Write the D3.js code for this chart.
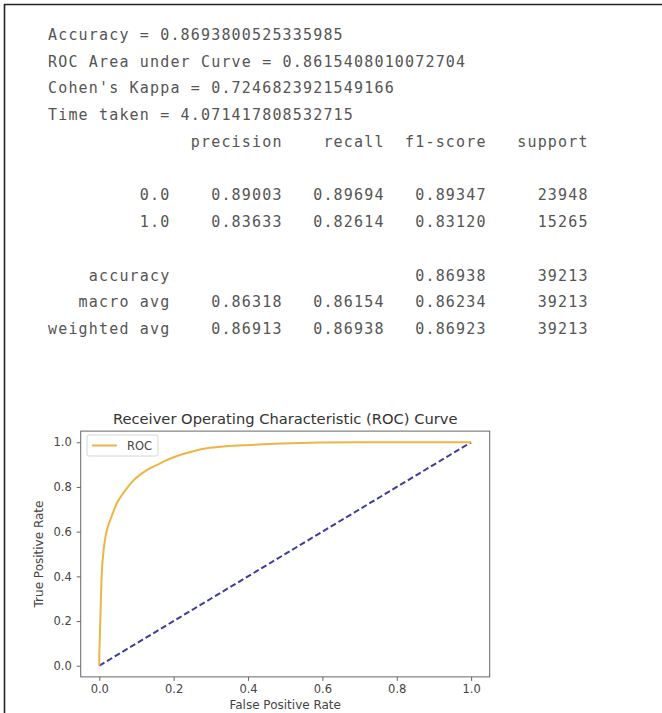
<!DOCTYPE html>
<html>
<head>
<meta charset="utf-8">
<script src="https://cdn.jsdelivr.net/npm/d3@7"></script>
<style>
  body { margin: 0; background: #fff; }
  svg { display: block; }
  .mono { font-family: "DejaVu Sans Mono", "Liberation Mono", monospace; white-space: pre; }
  .sans { font-family: "DejaVu Sans", "Noto Sans", sans-serif; }
</style>
</head>
<body>
<svg id="chart" width="662" height="713"></svg>
<script>
// ---- Evaluation summary ----
const metricNames = ["Accuracy", "ROC Area under Curve", "Cohen's Kappa", "Time taken"];
const metricValues = ["0.8693800525335985", "0.8615408010072704", "0.7246823921549166", "4.071417808532715"];

// ---- Classification report ----
const reportHeaders = ["precision", "recall", "f1-score", "support"];
const classLabels = ["0.0", "1.0"];
const classPrecision = [0.89003, 0.83633];
const classRecall = [0.89694, 0.82614];
const classF1 = [0.89347, 0.83120];
const classSupport = [23948, 15265];
const accuracyF1 = 0.86938;
const accuracySupport = 39213;
const avgLabels = ["macro avg", "weighted avg"];
const avgPrecision = [0.86318, 0.86913];
const avgRecall = [0.86154, 0.86938];
const avgF1 = [0.86234, 0.86923];
const avgSupport = [39213, 39213];

// ---- ROC curve ----
const rocFpr = [0.0, 0.0, 0.001, 0.002, 0.004, 0.0065, 0.010, 0.015, 0.021, 0.029, 0.038, 0.047, 0.060, 0.074, 0.090, 0.109, 0.130, 0.154, 0.185, 0.217, 0.250, 0.289, 0.340, 0.405, 0.470, 0.540, 0.600, 0.700, 0.800, 0.900, 1.0];
const rocTpr = [0.0, 0.05, 0.10, 0.16, 0.28, 0.41, 0.49, 0.56, 0.61, 0.65, 0.69, 0.727, 0.762, 0.794, 0.826, 0.854, 0.878, 0.898, 0.923, 0.943, 0.959, 0.973, 0.982, 0.988, 0.993, 0.997, 0.999, 1.0, 1.0, 1.0, 1.0];
const chanceFpr = [0, 1];
const chanceTpr = [0, 1];
const xTicks = [0.0, 0.2, 0.4, 0.6, 0.8, 1.0];
const yTicks = [0.0, 0.2, 0.4, 0.6, 0.8, 1.0];

const svg = d3.select("#chart");
svg.append("rect").attr("width", 662).attr("height", 713).attr("fill", "#fff");

// Page frame (top and left edges)
svg.append("line").attr("x1", 4).attr("y1", 4.5).attr("x2", 662).attr("y2", 4.5)
  .attr("stroke", "#222").attr("stroke-width", 1.6);
svg.append("line").attr("x1", 4.5).attr("y1", 4).attr("x2", 4.5).attr("y2", 713)
  .attr("stroke", "#222").attr("stroke-width", 1.6);

// ---- Text output, laid out as in a fixed-width console ----
const W = 12;
const f5 = d3.format(".5f");
const lines = [];
metricNames.forEach((n, i) => lines.push(`${n} = ${metricValues[i]}`));
lines.push(" ".repeat(W) + " " + reportHeaders.map(h => " " + h.padStart(9)).join(""));
lines.push("");
classLabels.forEach((c, i) => {
  lines.push(c.padStart(W) + " " +
    [classPrecision[i], classRecall[i], classF1[i]].map(v => " " + f5(v).padStart(9)).join("") +
    " " + String(classSupport[i]).padStart(9));
});
lines.push("");
lines.push("accuracy".padStart(W) + " " + " ".repeat(20) + " " + f5(accuracyF1).padStart(9) + " " + String(accuracySupport).padStart(9));
avgLabels.forEach((c, i) => {
  lines.push(c.padStart(W) + " " +
    [avgPrecision[i], avgRecall[i], avgF1[i]].map(v => " " + f5(v).padStart(9)).join("") +
    " " + String(avgSupport[i]).padStart(9));
});

const lineStep = 26.73;
svg.append("g").selectAll("text").data(lines).join("text")
  .attr("class", "mono")
  .attr("x", 48)
  .attr("y", (d, i) => 40 + i * lineStep)
  .attr("font-size", 15)
  .attr("letter-spacing", 10.2 - 15 * 0.602)
  .attr("fill", "#555")
  .text(d => d);

// ---- ROC chart ----
const x = d3.scaleLinear().domain([-0.05, 1.05]).range([80.7, 489.7]);
const y = d3.scaleLinear().domain([-0.05, 1.05]).range([676.9, 431.1]);
const axisColor = "#666";
const labelColor = "#444";

const g = svg.append("g");

const xAxis = g.append("g").attr("transform", `translate(0,${y.range()[0]})`)
  .call(d3.axisBottom(x).tickValues(xTicks).tickSize(4).tickPadding(4).tickFormat(d3.format(".1f")));
const yAxis = g.append("g").attr("transform", `translate(${x.range()[0]},0)`)
  .call(d3.axisLeft(y).tickValues(yTicks).tickSize(4).tickPadding(5).tickFormat(d3.format(".1f")));
[xAxis, yAxis].forEach(a => {
  a.select(".domain").remove();
  a.selectAll(".tick line").attr("stroke", axisColor).attr("stroke-width", 1);
  a.selectAll(".tick text").attr("class", "sans").attr("font-size", 11.5).attr("fill", labelColor);
});

// Chance diagonal
g.append("path")
  .datum(chanceFpr.map((v, i) => [v, chanceTpr[i]]))
  .attr("d", d3.line().x(d => x(d[0])).y(d => y(d[1])))
  .attr("fill", "none").attr("stroke", "#3d3d98").attr("stroke-width", 2)
  .attr("stroke-dasharray", "6,3");

// ROC curve
g.append("path")
  .datum(rocFpr.map((v, i) => [v, rocTpr[i]]))
  .attr("d", d3.line().x(d => x(d[0])).y(d => y(d[1])).curve(d3.curveMonotoneX))
  .attr("fill", "none").attr("stroke", "#eeb445").attr("stroke-width", 2);

// Plot frame
g.append("rect")
  .attr("x", x.range()[0]).attr("y", y.range()[1])
  .attr("width", x.range()[1] - x.range()[0]).attr("height", y.range()[0] - y.range()[1])
  .attr("fill", "none").attr("stroke", axisColor).attr("stroke-width", 1);

// Legend
const lg = g.append("g");
lg.append("rect").attr("x", 87).attr("y", 435).attr("width", 71).attr("height", 21).attr("rx", 2)
  .attr("fill", "#fff").attr("fill-opacity", 0.8).attr("stroke", "#d6d6d6").attr("stroke-width", 1);
lg.append("line").attr("x1", 92).attr("x2", 117).attr("y1", 445.5).attr("y2", 445.5)
  .attr("stroke", "#eeb445").attr("stroke-width", 2);
lg.append("text").attr("class", "sans").attr("x", 127).attr("y", 449.5)
  .attr("font-size", 11.5).attr("fill", labelColor).text("ROC");

// Titles
g.append("text").attr("class", "sans").attr("x", (x.range()[0] + x.range()[1]) / 2).attr("y", 423.5)
  .attr("text-anchor", "middle").attr("font-size", 14.7).attr("fill", "#333")
  .text("Receiver Operating Characteristic (ROC) Curve");
g.append("text").attr("class", "sans").attr("x", (x.range()[0] + x.range()[1]) / 2).attr("y", 709)
  .attr("text-anchor", "middle").attr("font-size", 12).attr("fill", labelColor)
  .text("False Positive Rate");
g.append("text").attr("class", "sans")
  .attr("transform", `translate(43,${(y.range()[0] + y.range()[1]) / 2}) rotate(-90)`)
  .attr("text-anchor", "middle").attr("font-size", 12).attr("fill", labelColor)
  .text("True Positive Rate");
</script>
</body>
</html>
